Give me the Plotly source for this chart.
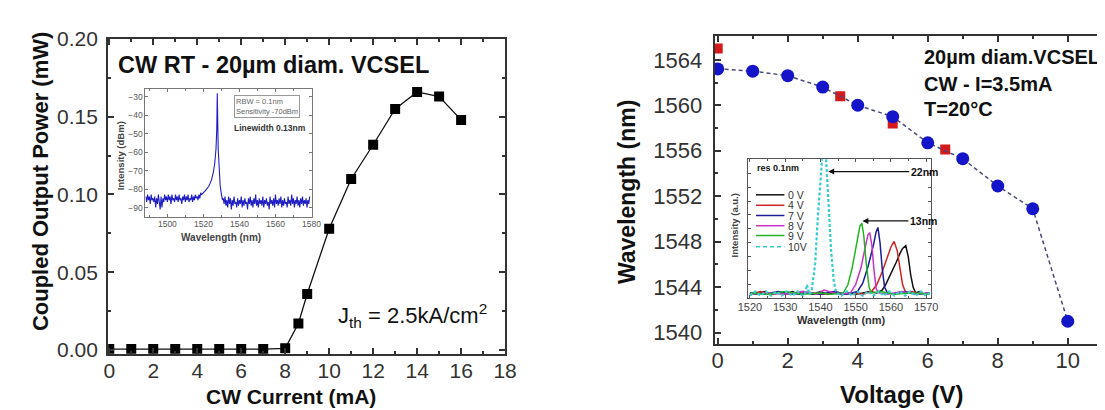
import plotly.graph_objects as go

W, H = 1105, 410
FONT = "Liberation Sans, Arial, sans-serif"

# ---------------- data ----------------
# Left panel: coupled output power vs CW current
current_ma = [0, 1, 2, 3, 4, 5, 6, 7, 8, 8.6, 9, 10, 11, 12, 13, 14, 15, 16]
power_mw = [0.0005, 0.0005, 0.0005, 0.0005, 0.0005, 0.0005, 0.0005, 0.0005, 0.001,
            0.017, 0.036, 0.078, 0.110, 0.132, 0.155, 0.166, 0.163, 0.148]

# Left inset: optical spectrum (dBm)
spec_left_start, spec_step = 1488.0, 0.5
spec_left_noise = [-84, -87, -83, -86, -84, -88, -83, -86, -85, -87,
                   -84, -90, -85, -88, -83, -86, -91, -84, -90, -85,
                   -87, -83, -86, -84, -87, -83, -86, -84, -88, -83,
                   -86, -85, -87, -83, -86, -84, -87, -83, -86, -85,
                   -88, -84, -86, -83, -87, -84, -86, -83, -87, -85,
                   -86, -83, -87, -84, -86, -83, -85, -84, -86, -83,
                   -85, -82]
spec_peak_wl = [1519, 1521, 1523, 1524.5, 1525.5, 1526.3, 1527, 1527.4, 1527.7,
                1527.9, 1528.2, 1528.7, 1529.3, 1530, 1530.6]
spec_peak_db = [-83, -81, -78.5, -75, -71, -66, -58, -48, -28, -40, -58, -70, -78, -83, -86]
spec_right_start = 1531.0
spec_right_noise = [-85, -88, -84, -89, -86, -90, -84, -88, -85, -91,
                    -86, -89, -84, -88, -87, -90, -85, -89, -86, -88,
                    -84, -90, -86, -89, -85, -88, -87, -91, -85, -88,
                    -84, -89, -86, -90, -85, -88, -83, -89, -86, -90,
                    -85, -88, -86, -89, -84, -90, -86, -88, -85, -89,
                    -87, -91, -84, -88, -86, -89, -85, -90, -83, -88,
                    -86, -89, -85, -88, -84, -90, -86, -89, -85, -88,
                    -87, -90, -84, -88, -86, -89, -83, -88, -85, -90,
                    -86, -88, -84, -89, -86, -90, -85, -88, -84, -89,
                    -86, -88, -85, -90, -86, -88, -84]

# Right panel: wavelength vs voltage
voltage_blue = [0, 1, 2, 3, 4, 5, 6, 7, 8, 9, 10]
wl_blue = [1563.2, 1563.0, 1562.6, 1561.6, 1560.0, 1559.0, 1556.7, 1555.3, 1552.9, 1550.9, 1541.0]
voltage_red = [0, 3.5, 5, 6.5]
wl_red = [1565.0, 1560.8, 1558.4, 1556.1]

# Right inset: normalised spectra at several voltages
sp_labels = ["0 V", "4 V", "7 V", "8 V", "9 V", "10V"]
sp0_wl = [1520, 1522, 1524, 1526, 1528, 1530, 1532, 1534, 1536, 1538, 1540, 1542, 1544, 1546,
          1548, 1550, 1552, 1554, 1556, 1557.5, 1558.5, 1559.5, 1560.5, 1561.5, 1562.5, 1563.3,
          1564.2, 1564.9, 1565.6, 1566.3, 1567, 1568, 1569.5, 1571]
sp0_i = [0.04, 0.03, 0.05, 0.03, 0.04, 0.03, 0.05, 0.03, 0.04, 0.03, 0.05, 0.03, 0.04, 0.03,
         0.04, 0.03, 0.04, 0.05, 0.04, 0.06, 0.10, 0.15, 0.20, 0.26, 0.32, 0.36,
         0.38, 0.30, 0.17, 0.08, 0.04, 0.05, 0.03, 0.04]
sp4_wl = [1520, 1523, 1526, 1529, 1532, 1535, 1538, 1541, 1544, 1547, 1550, 1552, 1554.5, 1556,
          1557.5, 1559, 1560, 1560.9, 1561.8, 1562.6, 1563.3, 1564.2, 1566, 1568, 1571]
sp4_i = [0.03, 0.05, 0.03, 0.04, 0.03, 0.05, 0.04, 0.03, 0.05, 0.03, 0.04, 0.03, 0.05, 0.10,
         0.19, 0.30, 0.37, 0.41, 0.34, 0.21, 0.10, 0.04, 0.05, 0.03, 0.04]
sp7_wl = [1520, 1524, 1528, 1532, 1536, 1540, 1544, 1547, 1549, 1550.5, 1552, 1553.5, 1555,
          1555.8, 1556.3, 1556.9, 1557.5, 1558.2, 1559, 1561, 1564, 1567, 1571]
sp7_i = [0.04, 0.03, 0.05, 0.03, 0.04, 0.03, 0.05, 0.03, 0.04, 0.05, 0.11, 0.23, 0.38,
         0.48, 0.51, 0.40, 0.22, 0.08, 0.04, 0.03, 0.05, 0.03, 0.04]
sp8_wl = [1520, 1525, 1530, 1535, 1539, 1541, 1545, 1548.5, 1550, 1551.5, 1552.8, 1553.5, 1554.0,
          1554.6, 1555.2, 1555.8, 1556.5, 1559, 1563, 1567, 1571]
sp8_i = [0.03, 0.04, 0.03, 0.05, 0.03, 0.06, 0.03, 0.04, 0.10, 0.22, 0.38, 0.46, 0.47,
         0.38, 0.20, 0.07, 0.04, 0.03, 0.05, 0.03, 0.04]
sp9_wl = [1520, 1525, 1530, 1535, 1540, 1543, 1546.5, 1547.8, 1549, 1550.2, 1551.2, 1551.75,
          1552.3, 1553, 1553.8, 1554.5, 1557, 1561, 1565, 1571]
sp9_i = [0.04, 0.03, 0.05, 0.03, 0.04, 0.03, 0.04, 0.10, 0.22, 0.38, 0.52, 0.54,
         0.45, 0.25, 0.08, 0.04, 0.05, 0.03, 0.04, 0.03]
sp10_wl = [1520, 1521.5, 1523, 1524.5, 1526, 1527.5, 1529, 1530.5, 1532, 1533.5, 1535, 1535.6,
           1536.2, 1536.8, 1537.5, 1538.5, 1539.3, 1540.2, 1540.8, 1541.5, 1542.2, 1543, 1543.8,
           1544.5, 1546, 1547.5, 1549, 1550.5, 1552, 1553.5, 1555, 1556.5, 1558, 1559.5, 1561,
           1562.5, 1564, 1565.5, 1567, 1568.5, 1570, 1571.4]
sp10_i = [0.02, 0.05, 0.02, 0.05, 0.02, 0.05, 0.02, 0.05, 0.02, 0.05, 0.02, 0.03,
          0.10, 0.03, 0.05, 0.25, 0.60, 0.95, 1.12, 1.05, 0.70, 0.35, 0.12,
          0.04, 0.02, 0.05, 0.02, 0.05, 0.02, 0.05, 0.02, 0.05, 0.02, 0.05, 0.02,
          0.05, 0.02, 0.05, 0.02, 0.05, 0.02, 0.05]
sp_colors = ["#111111", "#d02424", "#1c1c9c", "#c832c8", "#22b422", "#38cccc"]
arrow_22_wl, arrow_22_i = 1542.2, 0.911
arrow_13_wl, arrow_13_i = 1551.9, 0.557

# ---------------- figure ----------------
def px(x):
    return x / W


def py(y):
    return 1 - y / H


fig = go.Figure()

# left main
fig.add_trace(go.Scatter(x=current_ma, y=power_mw, mode="lines+markers",
                         line=dict(color="#111111", width=1.3),
                         marker=dict(symbol="square", size=10, color="#000000"),
                         xaxis="x", yaxis="y"))

# left inset spectrum
spec_x = ([spec_left_start + spec_step * i for i in range(len(spec_left_noise))]
          + spec_peak_wl
          + [spec_right_start + spec_step * i for i in range(len(spec_right_noise))])
spec_y = spec_left_noise + spec_peak_db + spec_right_noise
fig.add_trace(go.Scatter(x=spec_x, y=spec_y, mode="lines",
                         line=dict(color="#1f1fc4", width=1.1),
                         xaxis="x3", yaxis="y3"))

# right main
fig.add_trace(go.Scatter(x=voltage_red, y=wl_red, mode="markers",
                         marker=dict(symbol="square", size=10, color="#d41a1a"),
                         xaxis="x2", yaxis="y2"))
fig.add_trace(go.Scatter(x=voltage_blue, y=wl_blue, mode="lines+markers",
                         line=dict(color="#4a4a7a", width=1.5, dash="4px,3px"),
                         marker=dict(symbol="circle", size=13, color="#1414c8"),
                         xaxis="x2", yaxis="y2"))

# right inset spectra
spectra = [(sp0_wl, sp0_i), (sp4_wl, sp4_i), (sp7_wl, sp7_i),
           (sp8_wl, sp8_i), (sp9_wl, sp9_i), (sp10_wl, sp10_i)]
for k, (xs, ys) in enumerate(spectra):
    fig.add_trace(go.Scatter(x=xs, y=ys, mode="lines",
                             line=dict(color=sp_colors[k], width=2.2 if k == 5 else 1.5,
                                       dash="3px,2px" if k == 5 else "solid"),
                             xaxis="x4", yaxis="y4"))

main_tick = dict(family=FONT, size=21, color="#333333")
axis_common = dict(showline=True, linecolor="#333333", ticks="inside",
                   tickcolor="#333333", showgrid=False, zeroline=False)

fig.update_layout(
    width=W, height=H, autosize=False,
    margin=dict(l=0, r=0, t=0, b=0),
    paper_bgcolor="white", plot_bgcolor="white",
    showlegend=False,
    font=dict(family=FONT),
    xaxis=dict(domain=[px(92), px(497)], range=[-0.05, 18.0], dtick=2, tick0=0,
               linewidth=2, mirror="ticks", ticklen=6, tickwidth=1.5,
               minor=dict(ticks="inside", dtick=1, ticklen=3, tickcolor="#333333"),
               tickfont=main_tick, ticklabelstandoff=-3, anchor="y", **axis_common),
    yaxis=dict(domain=[py(350), py(20)], range=[-0.0025, 0.2], dtick=0.05, tick0=0,
               tickformat=".2f", linewidth=2, mirror="ticks", ticklen=6, tickwidth=1.5,
               minor=dict(ticks="inside", dtick=0.025, ticklen=3, tickcolor="#333333"),
               tickfont=main_tick, ticklabelstandoff=4, anchor="x", **axis_common),
    xaxis2=dict(domain=[px(710.7), 1.0], range=[-0.09, 10.95], dtick=2, tick0=0,
                linewidth=2, mirror="ticks", ticklen=6, tickwidth=1.5,
                minor=dict(ticks="inside", dtick=1, ticklen=3, tickcolor="#333333"),
                tickfont=dict(family=FONT, size=22, color="#333333"),
                ticklabelstandoff=-5, anchor="y2", **axis_common),
    yaxis2=dict(domain=[py(340), py(17.3)], range=[1538.98, 1566.05], dtick=4, tick0=1540,
                linewidth=2, mirror=False, ticklen=6, tickwidth=1.5,
                minor=dict(ticks="inside", dtick=2, ticklen=3, tickcolor="#333333"),
                tickfont=dict(family=FONT, size=22, color="#333333"),
                ticklabelstandoff=6, anchor="x2", **axis_common),
    xaxis3=dict(domain=[px(130), px(300)], range=[1487.8, 1580.3], dtick=20, tick0=1500,
                linewidth=1, linecolor="#777777", mirror="ticks", ticks="inside",
                ticklen=3, tickcolor="#777777",
                minor=dict(ticks="inside", dtick=10, ticklen=2, tickcolor="#777777"),
                tickfont=dict(family=FONT, size=8.5, color="#555555"),
                ticklabelstandoff=-1,
                showgrid=False, zeroline=False, showline=True, anchor="y3"),
    yaxis3=dict(domain=[py(206.7), py(72.7)], range=[-95.2, -25.9], dtick=10, tick0=-90,
                linewidth=1, linecolor="#777777", mirror="ticks", ticks="inside",
                ticklen=3, tickcolor="#777777",
                tickfont=dict(family=FONT, size=8.5, color="#555555"),
                showgrid=False, zeroline=False, showline=True, anchor="x3"),
    xaxis4=dict(domain=[px(745), px(931.7)], range=[1519.5, 1571.4], dtick=10, tick0=1520,
                linewidth=1.2, linecolor="#555555", mirror="ticks", ticks="inside",
                ticklen=3, tickcolor="#555555",
                minor=dict(ticks="inside", dtick=5, ticklen=2, tickcolor="#555555"),
                tickfont=dict(family=FONT, size=11, color="#444444"),
                ticklabelstandoff=-2,
                showgrid=False, zeroline=False, showline=True, anchor="y4"),
    yaxis4=dict(domain=[py(292), py(146)], range=[0, 1], dtick=0.1, tick0=0,
                showticklabels=False,
                linewidth=1.2, linecolor="#555555", mirror="ticks", ticks="inside",
                ticklen=3, tickcolor="#555555",
                showgrid=False, zeroline=False, showline=True, anchor="x4"),
)

ann = []


def text(x, y, s, size, color="#111111", xanchor="center", yanchor="middle", angle=0, **kw):
    ann.append(dict(x=px(x), y=py(y), xref="paper", yref="paper", text=s, showarrow=False,
                    xanchor=xanchor, yanchor=yanchor, textangle=angle,
                    font=dict(family=FONT, size=size, color=color), **kw))


# left panel texts
text(22.4, 169, "<b>Coupled Output Power (mW)</b>", 22, angle=-90)
text(279, 395, "<b>CW Current (mA)</b>", 21)
text(100, 46.7, "<b>CW RT - 20µm diam. VCSEL</b>", 23.5, xanchor="left")
text(324, 310, "J<sub>th</sub> = 2.5kA/cm<sup>2</sup>", 22, xanchor="left")
# left inset texts
text(105, 142, "<b>Intensity (dBm)</b>", 9.5, color="#444444", angle=-90)
text(207, 228, "<b>Wavelength (nm)</b>", 10, color="#444444")
text(220, 79, "RBW = 0.1nm<br>Sensitivity -70dBm", 7.5, color="#666666",
     xanchor="left", yanchor="top", align="left", bordercolor="#999999", borderwidth=1,
     borderpad=1)
text(218, 113, "<b>Linewidth 0.13nm</b>", 8.5, color="#333333", xanchor="left")

# right panel texts
text(620.8, 180, "<b>Wavelength (nm)</b>", 23, angle=-90)
text(901.5, 393, "<b>Voltage (V)</b>", 24)
text(922, 38.3, "<b>20µm diam.VCSEL</b>", 20, xanchor="left")
text(922, 66.7, "<b>CW - I=3.5mA</b>", 20, xanchor="left")
text(922, 93.3, "<b>T=20°C</b>", 20, xanchor="left")
# right inset texts
text(751.7, 155, "<b>res 0.1nm</b>", 9, xanchor="left")
text(731, 215, "<b>Intensity (a.u.)</b>", 9.5, color="#444444", angle=-90)
text(840, 315, "<b>Wavelength (nm)</b>", 11, color="#333333")

legend_rows = [183.3, 194.3, 205, 215.7, 226, 237.7]
shapes = []
for k, lab in enumerate(sp_labels):
    yy = legend_rows[k]
    text(784, yy, lab, 10.5, color="#333333", xanchor="left")
    shapes.append(dict(type="line", xref="paper", yref="paper",
                       x0=px(753), x1=px(782), y0=py(yy), y1=py(yy),
                       line=dict(color=sp_colors[k], width=1.5,
                                 dash="4px,3px" if k == 5 else "solid")))

for wl, inten, ax in [(arrow_22_wl, arrow_22_i, 96), (arrow_13_wl, arrow_13_i, 61)]:
    lab = "22nm" if ax == 96 else "13nm"
    ann.append(dict(x=wl, y=inten, xref="x4", yref="y4", text="<b>%s</b>" % lab,
                    showarrow=True, ax=ax, ay=0, arrowhead=2, arrowsize=1,
                    arrowwidth=1.2, arrowcolor="#111111", standoff=0,
                    font=dict(family=FONT, size=10.5, color="#111111")))

fig.update_layout(annotations=ann, shapes=shapes)
fig.write_html("out.html")
